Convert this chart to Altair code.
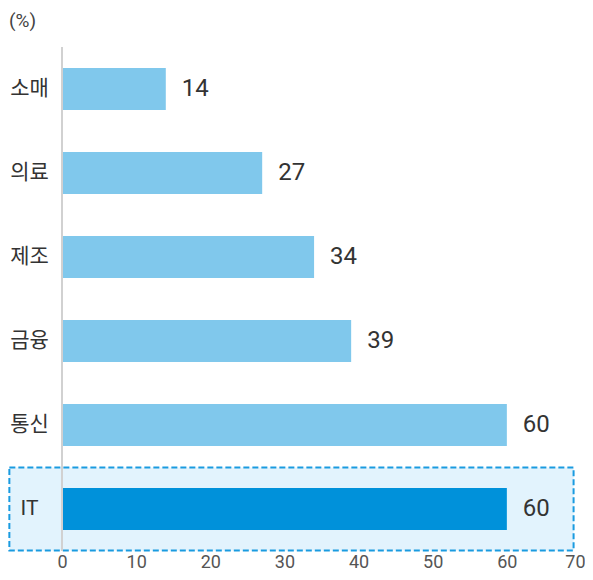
import altair as alt
import pandas as pd

categories = ["소매", "의료", "제조", "금융", "통신", "IT"]
values = [14, 27, 34, 39, 60, 60]
highlight = ["no", "no", "no", "no", "no", "yes"]
x_ticks = [0, 10, 20, 30, 40, 50, 60, 70]

df = pd.DataFrame({"cat": categories, "val": values, "hl": highlight})
box_df = pd.DataFrame({"cat": ["IT"], "x0": [-7.1], "x1": [69.0]})

FONT = "Roboto, Noto Sans CJK KR, sans-serif"

y_enc = alt.Y("cat:N", sort=categories,
              scale=alt.Scale(paddingInner=0.5, paddingOuter=0.25),
              axis=alt.Axis(title=None, ticks=False, tickSize=0, domain=False,
                            labelFontSize=21, labelColor="#333333",
                            labelFont=FONT, labelAlign="center",
                            labelPadding=33, zindex=2))
x_scale = alt.Scale(domain=[0, 70], nice=False)
x_enc = alt.X("val:Q", scale=x_scale,
              axis=alt.Axis(title=None, values=x_ticks, ticks=False, tickSize=0,
                            domain=False, grid=False, labelFontSize=18,
                            labelColor="#555555", labelFont=FONT,
                            labelPadding=2, labelFlush=False,
                            labelAlign={"condition": {"test": "datum.value == 70", "value": "right"},
                                        "value": "center"},
                            labelOffset={"condition": {"test": "datum.value == 70", "value": 4},
                                         "value": 0}))

box = alt.Chart(box_df).mark_bar(
    height=83, fill="#e2f3fd", stroke="#1a9be0", strokeWidth=2,
    strokeDash=[6, 3]
).encode(
    x=alt.X("x0:Q", scale=x_scale),
    x2="x1:Q",
    y=alt.Y("cat:N", sort=categories),
)

bars = alt.Chart(df).mark_bar().encode(
    x=x_enc,
    y=y_enc,
    color=alt.Color("hl:N", scale=alt.Scale(domain=["no", "yes"],
                                             range=["#80c8ec", "#0091da"]),
                    legend=None),
)

rule = alt.Chart(df).mark_rule(color="#d0d0d0", strokeWidth=1.5).encode(
    x=alt.datum(0)
)

labels = alt.Chart(df).mark_text(
    align="left", baseline="middle", dx=16, fontSize=24,
    color="#333333", font=FONT
).encode(
    x=alt.X("val:Q", scale=x_scale),
    y=alt.Y("cat:N", sort=categories),
    text="val:Q",
)

chart = alt.layer(box, bars, rule, labels).properties(
    width=519, height=504,
    title=alt.TitleParams("(%)", anchor="start", frame="group", dx=-53,
                          offset=15, fontSize=19, fontWeight="normal",
                          color="#444444", font=FONT),
    autosize=alt.AutoSizeParams(type="none"),
    padding={"left": 54, "top": 39, "right": 4, "bottom": 21},
).configure_view(stroke=None)

chart.save("out.html", embed_options={"renderer": "svg", "actions": False})
